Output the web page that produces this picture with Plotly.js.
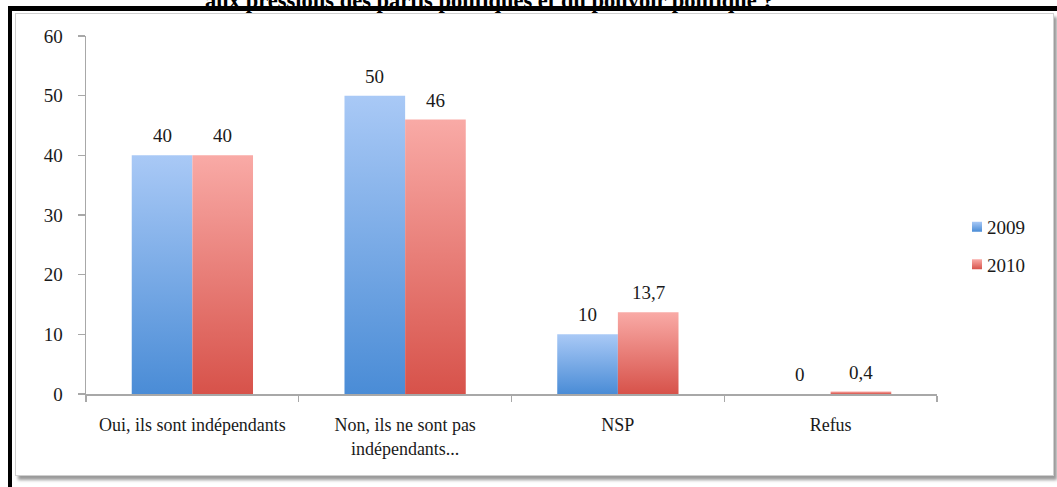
<!DOCTYPE html>
<html>
<head>
<meta charset="utf-8">
<script src="https://cdn.plot.ly/plotly-3.0.1.min.js"></script>
<style>
  html, body { margin: 0; padding: 0; background: #ffffff; }
  #wrap { position: relative; width: 1057px; height: 487px; overflow: hidden; }
  #box { position: absolute; left: 15px; top: 13px; width: 1037px; height: 461px;
         border: 1.5px solid #cfcfcf; background: #ffffff;
         box-shadow: 3px 4px 3px #9a9a9a; z-index: 0; }
  #chart { position: absolute; left: 0; top: 0; width: 1057px; height: 487px; z-index: 1; }
  .blk { position: absolute; background: #000; z-index: 2; }
</style>
</head>
<body>
<div id="wrap">
  <div id="box"></div>
  <div id="chart"></div>
  <div class="blk" style="left:8px; top:6px; width:1049px; height:4.5px;"></div>
  <div class="blk" style="left:8px; top:6px; width:4px; height:481px;"></div>
</div>
<script>
// ---- Data ----
const categories = ['Oui, ils sont indépendants', 'Non, ils ne sont pas<br>indépendants...', 'NSP', 'Refus'];
const seriesNames = ['2009', '2010'];
const values2009 = [40, 50, 10, 0];
const values2010 = [40, 46, 13.7, 0.4];
const titleText = 'aux pressions des partis politiques et du pouvoir politique ?';

// ---- Style ----
const serif = 'Liberation Serif';
const blueSolid = '#78a9e6';
const redSolid = '#ea7f77';
const W = 1057, H = 487;
const margin = {l: 86, r: 120, t: 36, b: 92.5, pad: 0};
const bargap = 0.43;

const traces = [
  {type: 'bar', name: seriesNames[0], x: categories, y: values2009,
   marker: {color: blueSolid, line: {width: 0}}, legendgroup: 'a', hoverinfo: 'none'},
  {type: 'bar', name: seriesNames[1], x: categories, y: values2010,
   marker: {color: redSolid, line: {width: 0}}, legendgroup: 'b', hoverinfo: 'none'}
];

const plotW = W - margin.l - margin.r;
const barPx = plotW / categories.length * (1 - bargap) / 2;
const fmt = v => String(v).replace('.', ',');
const annotations = [];
[values2009, values2010].forEach((vals, si) => {
  vals.forEach((v, i) => {
    annotations.push({
      x: categories[i], y: v, xref: 'x', yref: 'y',
      text: fmt(v), showarrow: false, yanchor: 'bottom',
      xshift: (si === 0 ? -1 : 1) * barPx / 2, yshift: 7,
      font: {family: serif, size: 19, color: '#1a1a1a'}
    });
  });
});

const layout = {
  width: W, height: H,
  margin: margin,
  font: {family: serif},
  paper_bgcolor: 'rgba(0,0,0,0)',
  plot_bgcolor: 'rgba(0,0,0,0)',
  barmode: 'group',
  bargap: bargap,
  bargroupgap: 0,
  title: {text: '<b>' + titleText + '</b>', x: 0.463, xref: 'container', y: 1, yref: 'container',
          xanchor: 'center', yanchor: 'middle', font: {family: serif, size: 22.5, color: '#000'}},
  xaxis: {
    type: 'category',
    showline: true, linecolor: '#a8a8a8', linewidth: 1.5,
    ticks: 'outside', tickson: 'boundaries', ticklen: 6, tickcolor: '#a8a8a8', tickwidth: 1.2,
    ticklabelstandoff: 14,
    tickfont: {family: serif, size: 18, color: '#1a1a1a'},
    showgrid: false, zeroline: false, fixedrange: true
  },
  yaxis: {
    range: [0, 60], dtick: 10, tick0: 0,
    showline: true, linecolor: '#a8a8a8', linewidth: 1.5,
    ticks: 'outside', ticklen: 7, tickcolor: '#a8a8a8', tickwidth: 1.2,
    ticklabelstandoff: 11,
    tickfont: {family: serif, size: 19, color: '#1a1a1a'},
    showgrid: false, zeroline: false, fixedrange: true
  },
  showlegend: true,
  legend: {x: 1 + 10 / plotW, xref: 'paper', xanchor: 'left', y: 0.414, yanchor: 'middle',
           traceorder: 'grouped', tracegroupgap: 10,
           font: {family: serif, size: 19, color: '#1a1a1a'},
           bgcolor: 'rgba(0,0,0,0)'},
  annotations: annotations
};

Plotly.newPlot('chart', traces, layout, {displayModeBar: false, staticPlot: true}).then(gd => {
  const svg = gd.querySelector('svg.main-svg');
  const ns = 'http://www.w3.org/2000/svg';
  let defs = svg.querySelector('defs');
  if (!defs) { defs = document.createElementNS(ns, 'defs'); svg.insertBefore(defs, svg.firstChild); }
  const mk = (id, c1, c2) => {
    const g = document.createElementNS(ns, 'linearGradient');
    g.setAttribute('id', id); g.setAttribute('x1', '0'); g.setAttribute('y1', '0');
    g.setAttribute('x2', '0'); g.setAttribute('y2', '1');
    [[0, c1], [1, c2]].forEach(([o, c]) => {
      const s = document.createElementNS(ns, 'stop');
      s.setAttribute('offset', o); s.setAttribute('stop-color', c);
      g.appendChild(s);
    });
    defs.appendChild(g);
  };
  mk('gBlue', '#a9c9f6', '#4a8cd6');
  mk('gRed', '#f9aaa6', '#d7524a');
  const ids = ['gBlue', 'gRed'];
  gd.querySelectorAll('.barlayer .trace').forEach((t, i) => {
    t.querySelectorAll('path').forEach(p => { p.style.fill = 'url(#' + ids[i] + ')'; });
  });
  gd.querySelectorAll('.legend .traces').forEach((t, i) => {
    t.querySelectorAll('.legendpoints path').forEach(p => {
      p.style.fill = 'url(#' + ids[i] + ')';
      p.setAttribute('d', 'M5,5H-5V-5H5Z');
    });
    const lp = t.querySelector('.legendpoints');
    if (lp) lp.setAttribute('transform', 'translate(10,0)');
  });
});
</script>
</body>
</html>
